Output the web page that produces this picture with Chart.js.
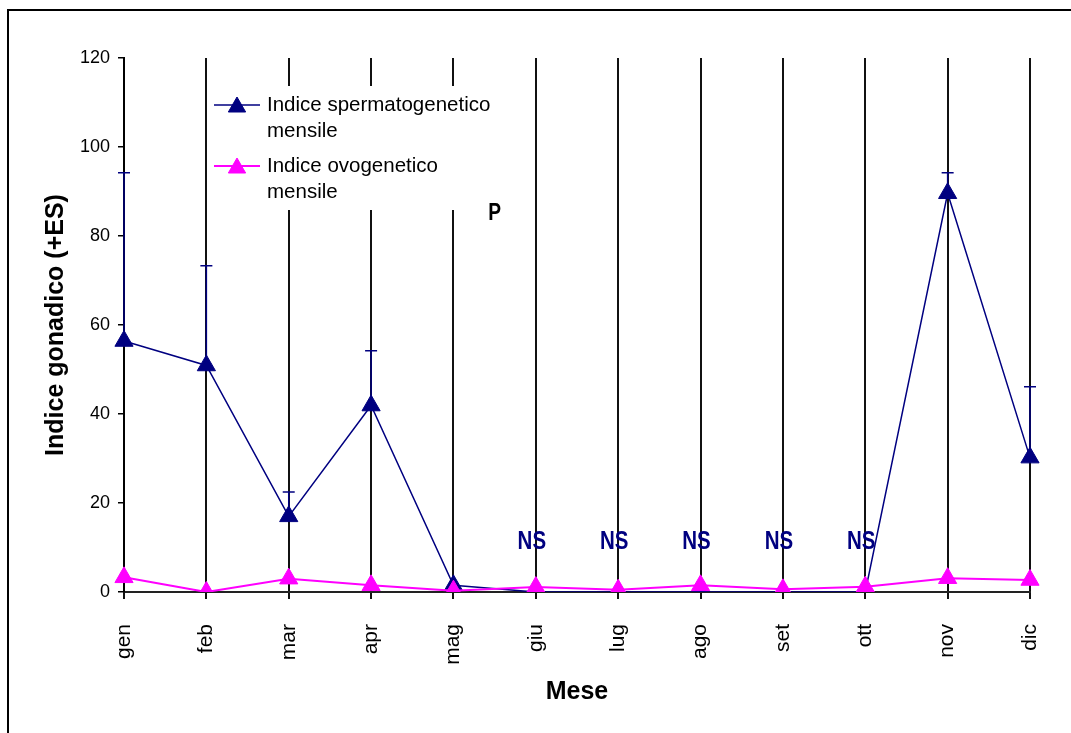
<!DOCTYPE html>
<html lang="it">
<head>
<meta charset="utf-8">
<title>Indice gonadico mensile</title>
<script src="https://cdn.jsdelivr.net/npm/chart.js@4.4.1/dist/chart.umd.min.js"></script>
<style>
  html, body { margin: 0; padding: 0; background: #fff; overflow: hidden; }
  #wrap { position: relative; width: 1071px; height: 733px; }
  #frame { position: absolute; left: 7px; top: 9px; width: 1200px; height: 900px;
           border-left: 2px solid #000; border-top: 2px solid #000; }
  canvas { position: absolute; left: 0; top: 0; }
</style>
</head>
<body>
<div id="wrap">
  <div id="frame"></div>
  <canvas id="grafico" width="1071" height="733"></canvas>
</div>
<script>
// Mesi dell'anno
const mesi = ['gen', 'feb', 'mar', 'apr', 'mag', 'giu', 'lug', 'ago', 'set', 'ott', 'nov', 'dic'];

// Indice spermatogenetico mensile e relativo errore standard (+ES)
const spermatogenetico   = [56.4, 50.9, 17.0, 41.9, 1.5, 0, 0, 0, 0, 0, 89.6, 30.2];
const spermatogeneticoES = [37.8, 22.4, 5.5, 12.3, 0, 0, 0, 0, 0, 0, 4.6, 15.9];

// Indice ovogenetico mensile
const ovogenetico = [3.3, 0, 3.0, 1.5, 0.3, 1.1, 0.5, 1.5, 0.6, 1.2, 3.1, 2.7];

// Tacche dell'asse y
const tackY = [0, 20, 40, 60, 80, 100, 120];

// Annotazioni di significatività
const notaNS = { mesi: ['giu', 'lug', 'ago', 'set', 'ott'], valore: 11.3, testo: 'NS' };
const notaP  = { tra: ['mag', 'giu'], valore: 85, testo: 'P' };

const BLU = '#000080';
const ROSA = '#FF00FF';
const FONT = "'Liberation Sans', Arial, sans-serif";

function triangolo(ctx, x, y, r, colore) {
  ctx.beginPath();
  let a = 0;
  ctx.moveTo(x + Math.sin(a) * r, y - Math.cos(a) * r);
  a += 2 * Math.PI / 3;
  ctx.lineTo(x + Math.sin(a) * r, y - Math.cos(a) * r);
  a += 2 * Math.PI / 3;
  ctx.lineTo(x + Math.sin(a) * r, y - Math.cos(a) * r);
  ctx.closePath();
  ctx.fillStyle = colore;
  ctx.strokeStyle = colore;
  ctx.lineWidth = 1;
  ctx.fill();
  ctx.stroke();
}

// Testo in grassetto leggermente compresso in orizzontale
function testoStretto(ctx, testo, x, y, scala) {
  ctx.save();
  ctx.translate(x, y);
  ctx.scale(scala, 1);
  ctx.fillText(testo, 0, 0);
  ctx.restore();
}

// Barre d'errore verso l'alto per la serie spermatogenetica
const barreErrore = {
  id: 'barreErrore',
  beforeDatasetsDraw(chart) {
    const { ctx, scales: { x, y } } = chart;
    ctx.save();
    ctx.strokeStyle = BLU;
    ctx.lineWidth = 1.5;
    spermatogenetico.forEach((v, i) => {
      const es = spermatogeneticoES[i];
      if (!es) return;
      const px = x.getPixelForValue(i);
      const y0 = y.getPixelForValue(v);
      const y1 = y.getPixelForValue(v + es);
      ctx.beginPath();
      ctx.moveTo(px, y0);
      ctx.lineTo(px, y1);
      ctx.moveTo(px - 6, y1);
      ctx.lineTo(px + 6, y1);
      ctx.stroke();
    });
    ctx.restore();
  }
};

// Legenda interna all'area del grafico, su fondo bianco
const legendaInterna = {
  id: 'legendaInterna',
  beforeDatasetsDraw(chart) {
    const { ctx } = chart;
    const voci = [
      { righe: ['Indice spermatogenetico', 'mensile'], colore: BLU, y: 105 },
      { righe: ['Indice ovogenetico', 'mensile'], colore: ROSA, y: 166 }
    ];
    ctx.save();
    ctx.fillStyle = '#fff';
    ctx.fillRect(212, 86, 300, 124);
    voci.forEach(v => {
      ctx.strokeStyle = v.colore;
      ctx.lineWidth = v.colore === BLU ? 1.5 : 2;
      ctx.beginPath();
      ctx.moveTo(214, v.y);
      ctx.lineTo(260, v.y);
      ctx.stroke();
      triangolo(ctx, 237, v.y + 2, 10, v.colore);
      ctx.fillStyle = '#000';
      ctx.font = '20.5px ' + FONT;
      ctx.textAlign = 'left';
      ctx.textBaseline = 'middle';
      v.righe.forEach((t, k) => ctx.fillText(t, 267, v.y + k * 26));
    });
    ctx.restore();
  }
};

// Etichette NS e P
const annotazioni = {
  id: 'annotazioni',
  afterDatasetsDraw(chart) {
    const { ctx, scales: { x, y } } = chart;
    ctx.save();
    ctx.textAlign = 'center';
    ctx.textBaseline = 'middle';
    ctx.font = 'bold 25px ' + FONT;
    ctx.fillStyle = BLU;
    notaNS.mesi.forEach(m => {
      const px = x.getPixelForValue(mesi.indexOf(m));
      testoStretto(ctx, notaNS.testo, px - 4, y.getPixelForValue(notaNS.valore), 0.82);
    });
    ctx.font = 'bold 24px ' + FONT;
    ctx.fillStyle = '#000';
    const i0 = mesi.indexOf(notaP.tra[0]);
    const i1 = mesi.indexOf(notaP.tra[1]);
    testoStretto(ctx, notaP.testo, x.getPixelForValue((i0 + i1) / 2), y.getPixelForValue(notaP.valore), 0.8);
    ctx.restore();
  }
};

new Chart(document.getElementById('grafico'), {
  type: 'line',
  data: {
    labels: mesi,
    datasets: [
      {
        label: 'Indice spermatogenetico mensile',
        data: spermatogenetico,
        borderColor: BLU,
        backgroundColor: BLU,
        borderWidth: 1.5,
        pointStyle: 'triangle',
        pointRadius: 10.5,
        pointBorderWidth: 1,
        tension: 0,
        order: 1
      },
      {
        label: 'Indice ovogenetico mensile',
        data: ovogenetico,
        borderColor: ROSA,
        backgroundColor: ROSA,
        borderWidth: 2,
        pointStyle: 'triangle',
        pointRadius: 10.5,
        pointBorderWidth: 1,
        tension: 0,
        order: 0
      }
    ]
  },
  options: {
    responsive: false,
    devicePixelRatio: 1,
    animation: false,
    events: [],
    layout: { padding: { left: 0, right: 41, top: 58, bottom: 0 } },
    plugins: {
      legend: { display: false },
      tooltip: { enabled: false }
    },
    scales: {
      x: {
        type: 'category',
        offset: false,
        grid: {
          display: true,
          drawOnChartArea: true,
          drawTicks: true,
          tickLength: 7,
          color: '#111',
          lineWidth: 2
        },
        border: { display: true, color: '#222', width: 2 },
        ticks: {
          autoSkip: false,
          maxRotation: 90,
          minRotation: 90,
          padding: 25,
          color: '#000',
          font: { family: FONT, size: 21 }
        },
        title: {
          display: true,
          text: 'Mese',
          color: '#000',
          font: { family: FONT, size: 25, weight: 'bold', lineHeight: 1.2 },
          padding: { top: 0, bottom: 26 }
        },
        afterFit(scale) {
          scale.height = 141;
          scale.paddingLeft = 0;
          scale.paddingRight = 0;
        }
      },
      y: {
        min: 0,
        max: 120,
        afterBuildTicks(scale) { scale.ticks = tackY.map(v => ({ value: v })); },
        grid: {
          display: true,
          drawOnChartArea: false,
          drawTicks: true,
          tickLength: 6,
          color: '#000',
          lineWidth: 1.5
        },
        border: { display: true, color: '#000', width: 2 },
        ticks: {
          padding: 8,
          color: '#000',
          font: { family: FONT, size: 18 }
        },
        title: {
          display: true,
          text: 'Indice gonadico (+ES)',
          color: '#000',
          font: { family: FONT, size: 25, weight: 'bold', lineHeight: 1.2 },
          padding: { top: 41, bottom: 0 }
        },
        afterFit(scale) { scale.width = 124; }
      }
    }
  },
  plugins: [barreErrore, legendaInterna, annotazioni]
});
</script>
</body>
</html>
